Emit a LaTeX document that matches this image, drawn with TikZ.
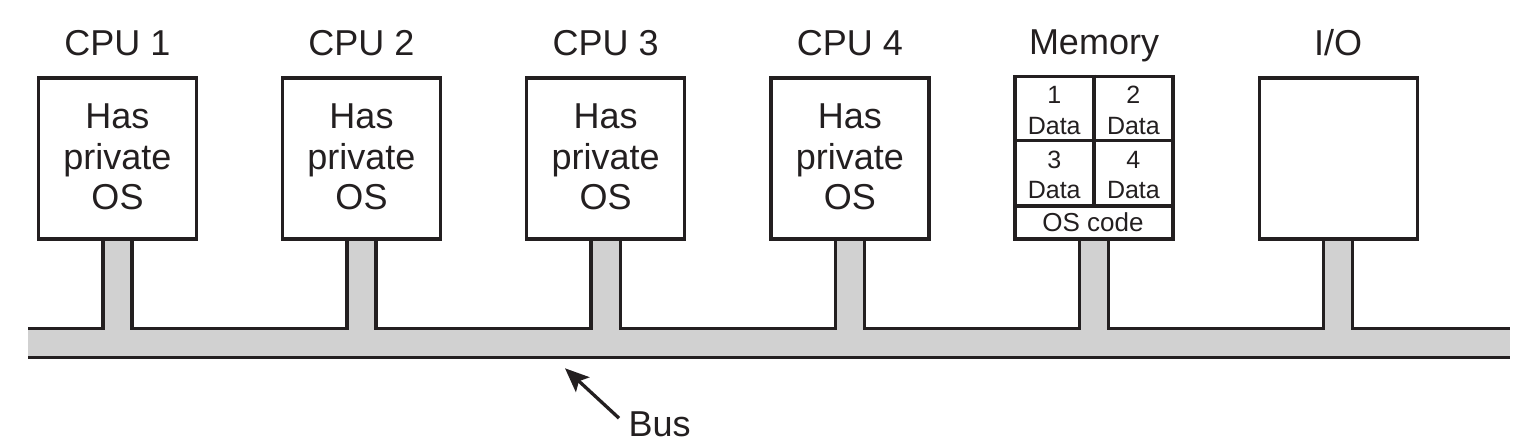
\documentclass[tikz,border=0pt]{standalone}
\usepackage{fontspec}
\setmainfont{Liberation Sans}
\usetikzlibrary{arrows.meta}
\definecolor{busgray}{RGB}{209,209,209}
\definecolor{ink}{RGB}{35,31,32}
\newcommand{\osline}{OS\rule[-1.8pt]{0pt}{0pt}}
\begin{document}
\begin{tikzpicture}[x=0.5pt,y=-0.5pt, line width=1.65pt,
  box/.style={draw=ink, minimum width=79pt, minimum height=80.5pt, inner sep=0pt, align=center, text=ink, font=\fontsize{18}{20.2}\selectfont},
  lab/.style={font=\fontsize{18}{20}\selectfont, anchor=base, inner sep=0pt, text=ink},
  small/.style={font=\fontsize{12.5}{14}\selectfont, anchor=base, inner sep=0pt, text=ink},
  busline/.style={draw=ink, line join=miter},
  pointer/.style={draw=ink, -{Stealth[length=12pt,width=10pt,inset=2.5pt]}}]
\useasboundingbox (0,0) rectangle (1530,442);
% boxes
\node[box] (c1) at (117.5,158.5) {Has\\private\\\osline};
\node[box] (c2) at (361.5,158.5) {Has\\private\\\osline};
\node[box] (c3) at (605.7,158.5) {Has\\private\\\osline};
\node[box] (c4) at (849.9,158.5) {Has\\private\\\osline};
\node[box, minimum height=81.35pt] (mem) at (1094,157.65) {};
\node[box] (io) at (1338.2,158.5) {};
% labels
\node[lab] (l1) at ([yshift=10.35pt]c1.north) {CPU 1};
\node[lab] (l2) at ([yshift=10.35pt]c2.north) {CPU 2};
\node[lab] (l3) at ([yshift=10.35pt]c3.north) {CPU 3};
\node[lab] (l4) at ([yshift=10.35pt]c4.north) {CPU 4};
\node[lab] (l5) at ([yshift=10.3pt]mem.north) {Memory};
\node[lab] (l6) at ([yshift=10.35pt]io.north) {I/O};
% memory partitions
\draw[ink] ([yshift=-33pt]mem.north west) -- ([yshift=-33pt]mem.north east);
\draw[ink] ([yshift=-65.7pt]mem.north west) -- ([yshift=-65.7pt]mem.north east);
\draw[ink] (mem.north) -- ([yshift=-65.7pt]mem.north);
\node[small] (m1) at (1054.2,103.3) {1};
\node[small] (m1d) at (1054.2,135) {Data};
\node[small] (m2) at (1133.4,103.3) {2};
\node[small] (m2d) at (1133.4,135) {Data};
\node[small] (m3) at (1054.2,169) {3};
\node[small] (m3d) at (1054.2,198.3) {Data};
\node[small] (m4) at (1133.4,169) {4};
\node[small] (m4d) at (1133.4,198.3) {Data};
\node[small, font=\fontsize{13}{14}\selectfont] (mos) at (1093,231.7) {OS code};
% bus
\coordinate (bt) at (0,328.3);
\coordinate (bl) at (28,328.3);
\coordinate (br) at (1510,328.3);
\coordinate (bbl) at (28,357.7);
\coordinate (bbr) at (1510,357.7);
\fill[busgray] (28,328.3) rectangle (1510,357.7);
\foreach \n in {c1,c2,c3,c4,mem,io}
  \fill[busgray] ([xshift=-7.3pt]\n.south) rectangle ([xshift=7.3pt,yshift=-1pt]\n.south |- bt);
\draw[busline] (bl) -- ([xshift=-7.3pt]c1.south |- bt) -- ([xshift=-7.3pt]c1.south)
  ([xshift=7.3pt]c1.south) -- ([xshift=7.3pt]c1.south |- bt) -- ([xshift=-7.3pt]c2.south |- bt) -- ([xshift=-7.3pt]c2.south)
  ([xshift=7.3pt]c2.south) -- ([xshift=7.3pt]c2.south |- bt) -- ([xshift=-7.3pt]c3.south |- bt) -- ([xshift=-7.3pt]c3.south)
  ([xshift=7.3pt]c3.south) -- ([xshift=7.3pt]c3.south |- bt) -- ([xshift=-7.3pt]c4.south |- bt) -- ([xshift=-7.3pt]c4.south)
  ([xshift=7.3pt]c4.south) -- ([xshift=7.3pt]c4.south |- bt) -- ([xshift=-7.3pt]mem.south |- bt) -- ([xshift=-7.3pt]mem.south)
  ([xshift=7.3pt]mem.south) -- ([xshift=7.3pt]mem.south |- bt) -- ([xshift=-7.3pt]io.south |- bt) -- ([xshift=-7.3pt]io.south)
  ([xshift=7.3pt]io.south) -- ([xshift=7.3pt]io.south |- bt) -- (br);
\draw[busline] (bbl) -- (bbr);
% bus label
\node[lab, anchor=base west] (bus) at (627,437) {Bus};
\coordinate (tip) at (565,368.3);
\draw[pointer] ([shift={(-4pt,-3.8pt)}]bus.north west) -- (tip);
\end{tikzpicture}
\end{document}
